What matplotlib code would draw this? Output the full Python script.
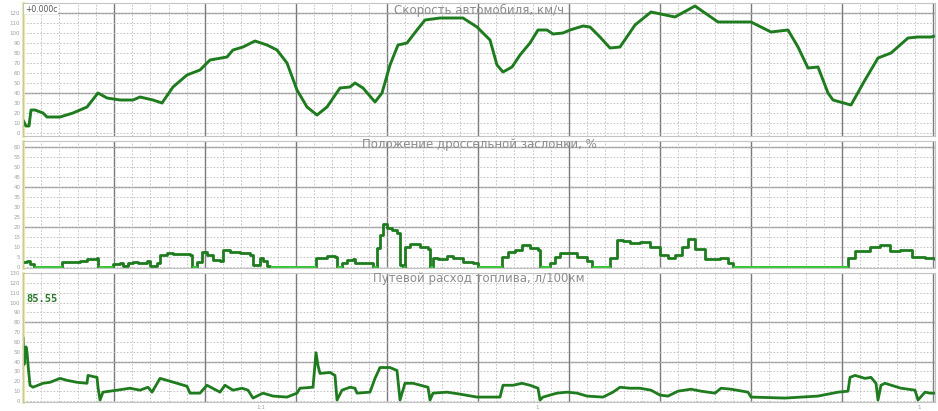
import matplotlib
matplotlib.use("Agg")
import matplotlib.pyplot as plt
import numpy as np
from matplotlib.ticker import MultipleLocator

# time axis in seconds
speed_t = [0, 3, 6, 8, 12, 20, 24, 37, 50, 64, 75, 84, 97, 110, 117, 130, 139, 150, 164, 177,
           187, 204, 210, 220, 232, 244, 254, 264, 274, 284, 294, 304, 317, 327, 332, 340, 352,
           359, 367, 375, 384, 394, 402, 417, 440, 454, 467, 474, 480, 489, 497, 507, 515, 524,
           530, 540, 547, 560, 567, 577, 587, 597, 612, 628, 652, 672, 695, 728, 748, 765, 775,
           785, 795, 805, 810, 828, 842, 855, 868, 885, 895, 908, 912]
speed_kmh = [13, 7, 7, 23, 23, 20, 16, 16, 20, 26, 40, 35, 33, 33, 36, 33, 30, 46, 58, 63,
             73, 76, 83, 86, 92, 88, 83, 70, 43, 26, 18, 26, 45, 46, 50, 45, 31,
             40, 68, 88, 90, 103, 113, 115, 115, 106, 93, 68, 61, 66, 78, 90, 103, 103,
             99, 100, 103, 107, 106, 96, 85, 86, 108, 121, 116, 127, 111, 111, 101, 103, 86,
             65, 66, 40, 33, 28, 53, 75, 80, 95, 96, 96, 97]

throttle_t = [0, 4, 7, 11, 39, 57, 64, 74, 75, 90, 97, 100, 105, 110, 115, 124, 127, 134, 137,
              144, 150, 167, 169, 174, 179, 184, 190, 197, 200, 207, 217, 227, 230, 237, 240,
              244, 247, 293, 297, 304, 312, 314, 319, 324, 330, 332, 344, 350, 354, 357, 360,
              364, 369, 374, 377, 380, 382, 387, 397, 405, 407, 410, 415, 424, 430, 440, 450,
              455, 479, 485, 492, 499, 507, 515, 517, 527, 532, 537, 547, 554, 564, 569, 587,
              594, 600, 607, 617, 627, 637, 645, 652, 659, 665, 672, 682, 697, 705, 710, 825,
              832, 847, 857, 867, 877, 889, 902, 912]
throttle_pct = [2.5, 3, 1.5, 0, 2.5, 3, 4, 4.5, 0, 1.5, 2, 0.5, 2, 2.5, 2, 3, 0.5, 2, 6,
                7, 6.5, 6, 0, 2.5, 7.5, 6, 3.5, 3, 8.5, 7.5, 7, 6, 1, 4.5, 3,
                0.5, 0, 4.5, 4.5, 5.5, 5, 0, 2, 3.5, 4, 2, 2, 0, 9.5, 16, 21.5,
                19.5, 18.5, 17, 1, 0, 10, 11.5, 10, 9, 0, 4.5, 4, 5.5, 4.5, 2.5, 2,
                0, 5, 7.5, 8.5, 11, 9.5, 8.5, 0, 2, 5, 7, 7, 5, 3, 0, 4.5,
                13.5, 13, 12, 12.5, 10, 6, 4.5, 6, 10, 14, 9, 4, 4.5, 2, 0, 4.5,
                8, 10, 11, 8, 8.5, 5, 4.5, 4]

fuel_t = [0, 1, 3, 4, 5, 7, 10, 20, 27, 37, 44, 54, 64, 65, 74, 75, 77, 80, 94, 107, 117, 125,
          129, 137, 144, 154, 164, 167, 177, 184, 197, 202, 210, 219, 225, 230, 240, 250, 264,
          274, 277, 290, 293, 295, 297, 307, 312, 314, 319, 327, 332, 334, 347, 352, 357, 367,
          374, 377, 382, 390, 405, 407, 410, 424, 437, 454, 477, 480, 490, 499, 507, 515, 517,
          520, 534, 544, 554, 564, 580, 590, 597, 607, 617, 628, 637, 645, 655, 668, 678, 692,
          698, 708, 725, 728, 762, 795, 815, 825, 827, 832, 842, 848, 853, 855, 858, 862, 878,
          892, 895, 902, 907, 912]
fuel_l100 = [64, 37, 55, 50, 37, 16, 14, 18, 19, 23, 21, 19, 18, 26, 24, 14, 1, 9, 11, 13, 11, 14,
             9, 23, 21, 18, 15, 8, 8, 16, 9, 16, 11, 13, 11, 3, 8, 5, 4,
             8, 13, 14, 49, 36, 28, 29, 26, 1, 11, 14, 13, 8, 9, 23, 34, 34,
             31, 1, 18, 18, 14, 1, 8, 9, 7, 4, 4, 16, 16, 18, 16, 13, 1,
             4, 8, 9, 8, 5, 4, 9, 14, 13, 13, 11, 6, 5, 10, 12, 10, 8,
             13, 12, 9, 4, 3, 5, 9, 10, 24, 26, 23, 24, 18, 1, 16, 18, 13,
             11, 1, 9, 8, 8]

titles = ["Скорость автомобиля, км/ч",
          "Положение дроссельной заслонки, %",
          "Путевой расход топлива, л/100км"]
cursor_time = "+0.000с"
fuel_now = "85.55"
x_marks = [238, 514, 896]
x_mark_labels = ["1:1", "1", "1"]

W, H = 938, 411
fig = plt.figure(figsize=(W / 100, H / 100), dpi=100, facecolor="white")

line_col = "#1e7b1e"
lime = "#3ccc3c"


def make_axes(top, bottom):
    ax = fig.add_axes([23 / W, 1 - bottom / H, (935 - 23) / W, (bottom - top) / H])
    ax.set_xlim(0, 912)
    ax.xaxis.set_major_locator(MultipleLocator(91))
    ax.xaxis.set_minor_locator(MultipleLocator(18.2))
    ax.grid(which="minor", axis="x", color="#bcbcbc", lw=0.6, ls=(0, (2, 2)))
    ax.grid(which="major", axis="x", color="#7a7a7a", lw=1.0, ls="-")
    ax.grid(which="major", axis="y", color="#bcbcbc", lw=0.6, ls=(0, (2, 2)))
    ax.tick_params(axis="x", which="both", length=0, labelbottom=False)
    ax.tick_params(axis="y", length=0, pad=2, labelsize=4, labelcolor="#a0a0a0")
    for s in ax.spines.values():
        s.set_color("#c4c4c4")
        s.set_linewidth(0.8)
    ax.set_axisbelow(True)
    ax.axvline(0, color="#ecec9a", lw=2.2, clip_on=False, zorder=1)
    return ax


# speed
ax1 = make_axes(3, 136)
ax1.set_ylim(-3, 130)
ax1.set_yticks(np.arange(0, 121, 10))
for v in (40, 120):
    ax1.axhline(v, color="#9a9a9a", lw=1.0, zorder=0.5)
ax1.plot(speed_t, speed_kmh, color=line_col, lw=2.1, solid_capstyle="butt")
ax1.text(0.5, 0.947, titles[0], transform=ax1.transAxes, ha="center", va="center",
         fontsize=8.5, color="#8c8c8c")

# throttle
ax2 = make_axes(141, 268)
ax2.set_ylim(-0.5, 63)
ax2.set_yticks(np.arange(0, 61, 5))
for v in (20, 40, 60):
    ax2.axhline(v, color="#9a9a9a", lw=1.0, zorder=0.5)
ax2.plot(throttle_t, throttle_pct, color=line_col, lw=2.0, drawstyle="steps-post")
for i in range(len(throttle_t) - 1):
    if throttle_pct[i] == 0:
        ax2.hlines(0, throttle_t[i], throttle_t[i + 1], color=lime, lw=2.0, zorder=3)
ax2.text(0.5, 0.969, titles[1], transform=ax2.transAxes, ha="center", va="center",
         fontsize=8.5, color="#8c8c8c")

# fuel
ax3 = make_axes(273, 402)
ax3.set_ylim(-1, 130)
ax3.set_yticks(np.arange(0, 131, 10))
for v in (40, 80):
    ax3.axhline(v, color="#9a9a9a", lw=1.0, zorder=0.5)
ax3.plot(fuel_t, fuel_l100, color=line_col, lw=2.0)
ax3.text(0.5, 0.961, titles[2], transform=ax3.transAxes, ha="center", va="center",
         fontsize=8.5, color="#8c8c8c")
ax3.text(3, 104, fuel_now, fontsize=7.5, color="#2a7a2a", family="DejaVu Sans Mono",
         fontweight="bold", va="center", ha="left")

for xm, lab in zip(x_marks, x_mark_labels):
    ax3.text(xm, -4, lab, fontsize=4, color="#a0a0a0", ha="center", va="top", clip_on=False)

fig.text(25 / W, 1 - 9 / H, cursor_time, fontsize=5.5, color="#555555", va="center", ha="left",
         bbox=dict(facecolor="white", edgecolor="none", pad=0.6))

fig.savefig("out.png", dpi=100, facecolor="white")
